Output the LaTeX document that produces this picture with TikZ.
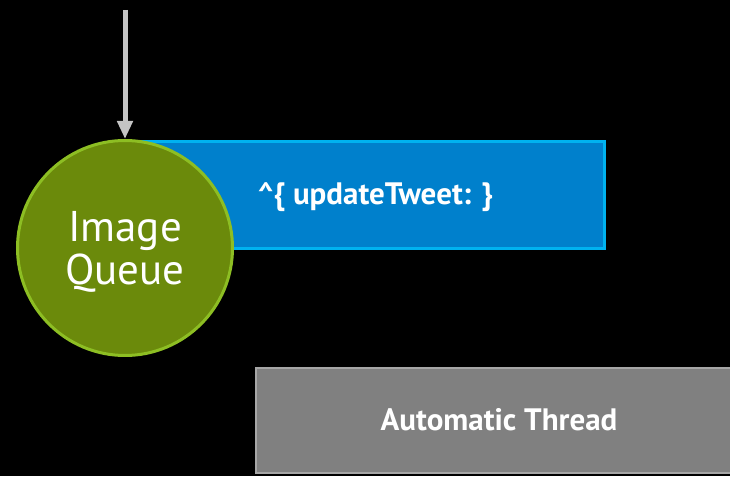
\documentclass[tikz,border=0pt]{standalone}
\usepackage{fontspec}
\setmainfont{PT Sans}
\usetikzlibrary{arrows.meta}
\definecolor{queuefill}{HTML}{6B8A0B}
\definecolor{queueline}{HTML}{8DBE23}
\definecolor{blockfill}{HTML}{0080CC}
\definecolor{blockline}{HTML}{00B2F0}
\definecolor{threadfill}{HTML}{808080}
\definecolor{threadline}{HTML}{A6A6A6}
\definecolor{arrowgray}{HTML}{C4C4C4}
\begin{document}
\begin{tikzpicture}[x=1pt,y=1pt,
  queue/.style={circle, draw=queueline, fill=queuefill, line width=3pt,
    minimum size=215pt, inner sep=0pt},
  queuetext/.style={text=white, align=center, inner sep=0pt,
    font=\fontsize{43}{43}\selectfont},
  blockbox/.style={rectangle, draw=blockline, fill=blockfill, line width=3pt,
    minimum width=478pt, minimum height=107pt, inner sep=0pt},
  threadbox/.style={rectangle, draw=threadline, fill=threadfill, line width=2.5pt,
    minimum width=488pt, minimum height=105pt, inner sep=0pt},
  caption/.style={text=white, font=\bfseries\fontsize{31}{36}\selectfont, inner sep=0pt},
  feed/.style={draw=arrowgray, line width=5pt,
    -{Triangle[length=18pt 0 0, width=15pt 0 0]}}
]
\useasboundingbox (0,0) rectangle (730,476);
\fill[black] (0,0) rectangle (730,476);
\clip (0,0) rectangle (730,476);

% thread box at the bottom right, running off the page
\node[threadbox] (thread) at (500,55.5) {};
\node[caption] (threadlabel) at (499,56) {Automatic Thread};

% block box tucked behind the queue
\node[blockbox] (block) at (365.5,281) {};
\node[caption, anchor=west] (blocklabel) at (258,279) {\^{}\{ updateTweet: \}};

% the queue itself
\node[queue] (queue) at (125,228) {};
\node[queuetext] (queuelabel) at (125,224) {Image\\Queue};

% incoming arrow
\coordinate (src) at (125,466);
\draw[feed] (src) -- (queue.north);
\end{tikzpicture}
\end{document}
